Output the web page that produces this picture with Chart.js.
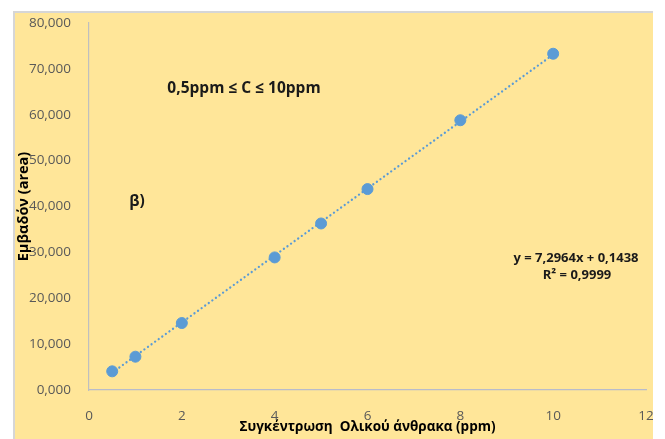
<!DOCTYPE html>
<html>
<head>
<meta charset="utf-8">
<script src="https://cdn.jsdelivr.net/npm/chart.js@4.4.0/dist/chart.umd.min.js"></script>
<style>
    html, body { margin: 0; padding: 0; background: #fff; }
    #frame {
        position: absolute;
        left: 13px;
        top: 11px;
        width: 638px;
        height: 426px;
        background: #FFE699;
        border-top: 2px solid #D6D6D6;
        border-left: 2px solid #D6D6D6;
    }
    #frame canvas { display: block; }
</style>
</head>
<body>
<div id="frame"><canvas id="calibChart" width="638" height="426"></canvas></div>
<script>
// Συγκέντρωση (ppm) και εμβαδόν κορυφής
const concentration = [0.5, 1, 2, 4, 5, 6, 8, 10];
const area = [4.07, 7.26, 14.6, 28.9, 36.3, 43.8, 58.8, 73.3];

// γραμμή τάσης (άκρα)
const trendX = [0.5, 10];
const trendY = [3.79, 73.11];

const xTicks = [0, 2, 4, 6, 8, 10, 12];
const yTicks = [0, 10, 20, 30, 40, 50, 60, 70, 80];

const rangeLabel = '0,5ppm \u2264 C \u2264 10ppm';
const partLabel = '\u03b2)';
const eqLabel = 'y = 7,2964x + 0,1438';
const r2Label = 'R\u00b2 = 0,9999';

function formatGreek(value) {
    return value.toFixed(3).replace('.', ',');
}

// Κείμενα μέσα στο γράφημα
const textPlugin = {
    id: 'texts',
    afterDraw(chart) {
        const ctx = chart.ctx;
        ctx.save();
        ctx.fillStyle = '#1a1a1a';
        ctx.textBaseline = 'middle';
        ctx.textAlign = 'center';
        ctx.font = 'bold 15.5px "Open Sans"';
        ctx.fillText(rangeLabel, 229, 76);
        ctx.fillText(partLabel, 122, 189);
        ctx.font = 'bold 13px "Open Sans"';
        ctx.fillText(eqLabel, 561, 245);
        ctx.fillText(r2Label, 562, 262);
        ctx.restore();
    }
};

const ctx = document.getElementById('calibChart');

new Chart(ctx, {
    type: 'scatter',
    data: {
        datasets: [
            {
                label: 'Εμβαδόν',
                data: concentration.map((c, i) => ({ x: c, y: area[i] })),
                backgroundColor: '#5B9BD5',
                borderColor: '#5B9BD5',
                pointRadius: 5.5,
                order: 1
            },
            {
                label: 'Γραμμή τάσης',
                type: 'line',
                data: trendX.map((c, i) => ({ x: c, y: trendY[i] })),
                borderColor: '#5B9BD5',
                borderWidth: 2.3,
                borderDash: [0.01, 4.4],
                borderCapStyle: 'round',
                pointRadius: 0,
                fill: false,
                order: 2
            }
        ]
    },
    options: {
        responsive: false,
        animation: false,
        layout: {
            padding: { left: 0, top: 10, right: 7, bottom: 0 }
        },
        plugins: {
            legend: { display: false },
            tooltip: { enabled: false }
        },
        scales: {
            x: {
                type: 'linear',
                min: 0,
                max: 12,
                afterBuildTicks: function(scale) {
                    scale.ticks = xTicks.map(v => ({ value: v }));
                },
                afterFit: function(scale) {
                    scale.height = 49;
                    scale.paddingLeft = 0;
                    scale.paddingRight = 0;
                },
                grid: { display: false },
                border: { display: true, color: '#B8BCCB', width: 1.2 },
                ticks: {
                    color: '#595959',
                    font: { family: 'Open Sans', size: 13.5 },
                    padding: 10,
                    maxRotation: 0
                },
                title: {
                    display: true,
                    text: 'Συγκέντρωση  Ολικού άνθρακα (ppm)',
                    color: '#000',
                    font: { family: 'Open Sans', size: 13.5, weight: 'bold' },
                    padding: { top: 0, bottom: 4 }
                }
            },
            y: {
                type: 'linear',
                min: 0,
                max: 80,
                afterBuildTicks: function(scale) {
                    scale.ticks = yTicks.map(v => ({ value: v }));
                },
                afterFit: function(scale) {
                    scale.width = 74;
                    scale.paddingTop = 0;
                    scale.paddingBottom = 0;
                },
                grid: { display: false },
                border: { display: true, color: '#BFBFBF', width: 1.2 },
                ticks: {
                    color: '#595959',
                    font: { family: 'Open Sans', size: 13.5 },
                    padding: 10,
                    callback: function(value) {
                        return formatGreek(value);
                    }
                },
                title: {
                    display: true,
                    text: 'Εμβαδόν (area)',
                    color: '#000',
                    font: { family: 'Open Sans', size: 14.5, weight: 'bold' },
                    padding: { top: 0, bottom: 0 }
                }
            }
        }
    },
    plugins: [textPlugin]
});
</script>
</body>
</html>
